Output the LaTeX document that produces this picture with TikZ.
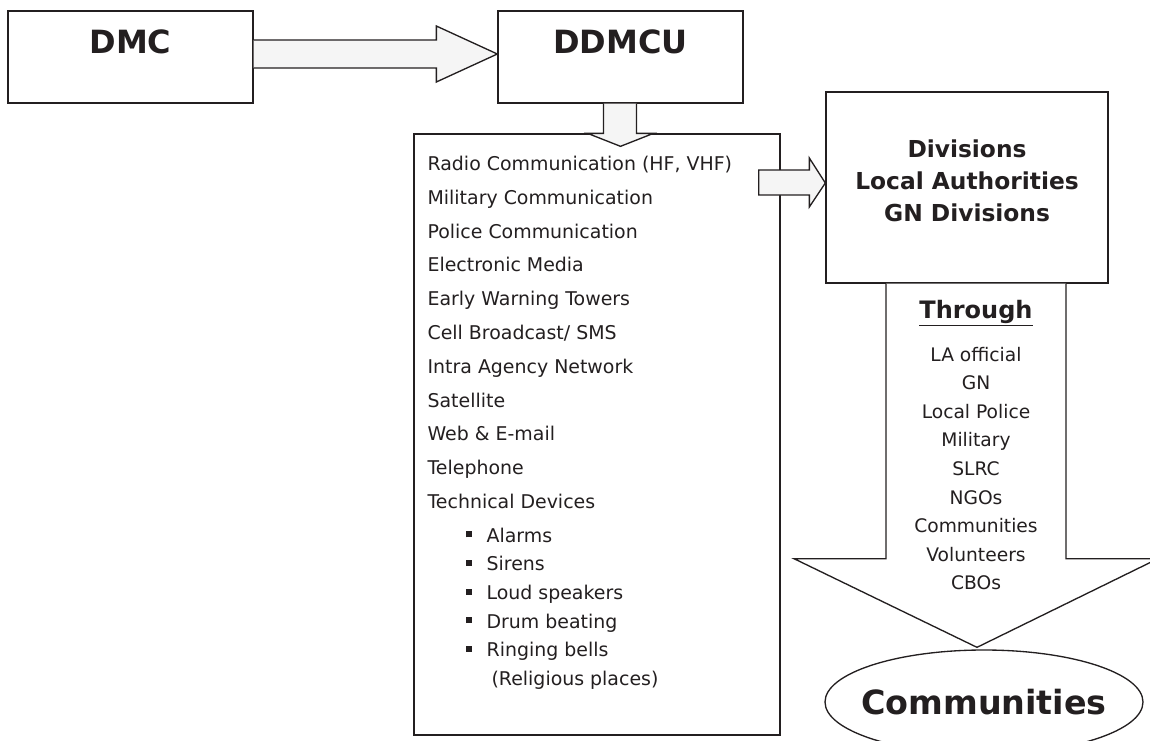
\documentclass[tikz,border=0pt]{standalone}
\usepackage{fontspec}
\setmainfont{DejaVu Sans}
\usetikzlibrary{shapes.geometric,calc}

\definecolor{inkdark}{HTML}{231F20}
\definecolor{arrowfill}{HTML}{F5F5F5}

\newcommand{\devicebullet}[1]{\hspace*{28.5pt}\rule[3.75pt]{4.5pt}{4.5pt}\hspace{11.25pt}#1}

\begin{document}
\begin{tikzpicture}
        [
            x                    = 0.75pt,
            y                    = -0.75pt,
            color                = inkdark,
            boxed/.style         = {shape=rectangle, draw, line width=1pt, fill=white, inner sep=0pt},
            headbox/.style       = {boxed, minimum width=183.75pt, minimum height=69pt,
                                    font=\bfseries\fontsize{24}{29}\selectfont,
                                    text height=17.5pt, text depth=23.5pt},
            blockarrow/.style    = {draw, line width=1pt, fill=arrowfill, line join=miter},
            bigarrow/.style      = {draw, line width=1pt, fill=white, line join=miter},
            listtext/.style      = {inner sep=0pt, align=left, font=\fontsize{14.2}{25.35}\selectfont},
            throughtext/.style   = {inner sep=0pt, align=center, font=\fontsize{14}{21.45}\selectfont},
        ]
        \useasboundingbox (0,0) rectangle (1150,740);

        % top row
        \node [headbox] (dmc)   at (130.5,57) {DMC};
        \node [headbox] (ddmcu) at (620.5,57) {DDMCU};
        \draw [blockarrow] ($(dmc.east)+(0,-17)$) -- ($(ddmcu.west)+(-61,-17)$)
            -- ($(ddmcu.west)+(-61,-31)$) -- ($(ddmcu.west)+(0,-3)$)
            -- ($(ddmcu.west)+(-61,25)$) -- ($(ddmcu.west)+(-61,11)$) -- ($(dmc.east)+(0,11)$);

        % channels
        \node [boxed, minimum width=274.5pt, minimum height=450.75pt] (channels) at (597,434.5) {};
        \draw [blockarrow] ($(ddmcu.south)+(-17,0)$) -- ($(ddmcu.south |- channels.north)+(-17,0)$)
            -- ($(ddmcu.south |- channels.north)+(-33,0)$) -- ($(ddmcu.south |- channels.north)+(0,13)$)
            -- ($(ddmcu.south |- channels.north)+(33,0)$) -- ($(ddmcu.south |- channels.north)+(16,0)$)
            -- ($(ddmcu.south)+(16,0)$);
        \node [listtext, anchor=north west] (channellist) at ($(channels.north west)+(14,22.6)$)
            {Radio Communication (HF, VHF)\\
             Military Communication\\
             Police Communication\\
             Electronic Media\\
             Early Warning Towers\\
             Cell Broadcast/ SMS\\
             Intra Agency Network\\
             Satellite\\
             Web \& E-mail\\
             Telephone\\
             Technical Devices\\
             \devicebullet{Alarms}\\[-3.9pt]
             \devicebullet{Sirens}\\[-3.9pt]
             \devicebullet{Loud speakers}\\[-3.9pt]
             \devicebullet{Drum beating}\\[-3.9pt]
             \devicebullet{Ringing bells}\\[-3.9pt]
             \hspace*{48pt}(Religious places)};

        % local level
        \node [boxed, minimum width=211.5pt, minimum height=143.25pt, align=center,
               font=\bfseries\fontsize{17.5}{24}\selectfont, text depth=9.75pt] (divisions) at (967,187.5)
            {Divisions\\Local Authorities\\GN Divisions};
        \draw [blockarrow] ($(channels.east |- divisions.west)+(-22,-17.5)$) -- ($(divisions.west)+(-16,-17.5)$)
            -- ($(divisions.west)+(-16,-29.5)$) -- ($(divisions.west)+(0,-4.5)$)
            -- ($(divisions.west)+(-16,19.5)$) -- ($(divisions.west)+(-16,7.5)$)
            -- ($(channels.east |- divisions.west)+(-22,7.5)$) -- cycle;

        % communities
        \node [ellipse, draw, line width=1pt, fill=white, inner sep=0pt,
               minimum width=238.5pt, minimum height=78pt,
               font=\bfseries\fontsize{25}{30}\selectfont] (communities) at (984,702)
            {\makebox[0pt]{Communities}};
        \draw [bigarrow] ($(divisions.south)+(-81,0)$) -- ($(divisions.south)+(-81,275)$)
            -- ($(divisions.south)+(-173,275)$) -- ($(communities.north)+(-7,-2)$)
            -- ($(divisions.south)+(191,275)$) -- ($(divisions.south)+(99,275)$)
            -- ($(divisions.south)+(99,0)$);
        \node [throughtext, anchor=north] (through) at ($(divisions.south)+(9,16)$)
            {{\bfseries\fontsize{18}{21.45}\selectfont\underline{Through}}\\[10.8pt]
             LA official\\GN\\Local Police\\Military\\SLRC\\NGOs\\Communities\\Volunteers\\CBOs};
    \end{tikzpicture}
\end{document}
